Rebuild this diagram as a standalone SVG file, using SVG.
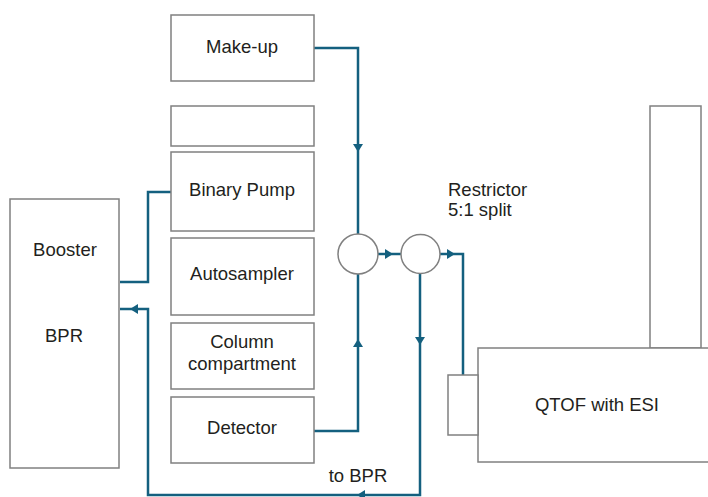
<svg xmlns="http://www.w3.org/2000/svg" width="708" height="497" viewBox="0 0 708 497">
<defs>
<style>
.box{fill:#fff;stroke:#808080;stroke-width:1.5}
.lbl{font-family:"Liberation Sans",Arial,sans-serif;font-size:18.5px;fill:#231f20;text-anchor:middle}
.lbll{font-family:"Liberation Sans",Arial,sans-serif;font-size:18.5px;fill:#231f20}
.ln{fill:none;stroke:#14607f;stroke-width:2.5;stroke-linejoin:miter}
.ah{fill:#14607f}
</style>
</defs>
<rect width="708" height="497" fill="#fff"/>
<g id="connectors">
<path class="ln" d="M314,48 H358 V234"/>
<path class="ln" d="M358,274 V431 H314"/>
<path class="ln" d="M378,254 H401"/>
<path class="ln" d="M440,254 H463 V375"/>
<path class="ln" d="M420,274 V495 H148 V309 H120"/>
<path class="ln" d="M171,192 H148 V282 H120"/>
<polygon class="ah" points="353,144 363,144 358,152"/>
<polygon class="ah" points="385,249 385,259 393,254"/>
<polygon class="ah" points="447,249 447,259 455,254"/>
<polygon class="ah" points="353,347 363,347 358,339"/>
<polygon class="ah" points="415,337 425,337 420,345"/>
<polygon class="ah" points="138,304 138,314 130,309"/>
<polygon class="ah" points="365,490 365,500 357,495"/>
</g>
<g id="makeup"><rect class="box" x="171" y="15" width="143" height="66"/><text class="lbl" x="242" y="53">Make-up</text></g>
<g id="empty"><rect class="box" x="171" y="106" width="143" height="40"/></g>
<g id="binarypump"><rect class="box" x="171" y="152" width="143" height="79"/><text class="lbl" x="242" y="196">Binary Pump</text></g>
<g id="autosampler"><rect class="box" x="171" y="238" width="143" height="77"/><text class="lbl" x="242" y="280">Autosampler</text></g>
<g id="column"><rect class="box" x="171" y="323" width="143" height="66"/><text class="lbl" x="242" y="348">Column</text><text class="lbl" x="242" y="370">compartment</text></g>
<g id="detector"><rect class="box" x="171" y="397" width="143" height="66"/><text class="lbl" x="242" y="434">Detector</text></g>
<g id="booster"><rect class="box" x="10" y="199" width="109" height="269"/><text class="lbl" x="65" y="256">Booster</text><text class="lbl" x="64" y="342">BPR</text></g>
<g id="mixer1"><circle class="box" cx="358" cy="254" r="20"/></g>
<g id="splitter"><circle class="box" cx="420.5" cy="254" r="19.5"/></g>
<g id="restrictor"><text class="lbll" x="448" y="196">Restrictor</text><text class="lbll" x="448" y="216">5:1 split</text></g>
<g id="tower"><rect class="box" x="650" y="106" width="51" height="242"/></g>
<g id="qtof"><rect class="box" x="478" y="348" width="240" height="114"/><text class="lbl" x="597" y="411">QTOF with ESI</text></g>
<g id="esi"><rect class="box" x="448" y="375" width="30" height="60"/></g>
<g id="tobpr"><text class="lbl" x="358" y="482">to BPR</text></g>
</svg>
